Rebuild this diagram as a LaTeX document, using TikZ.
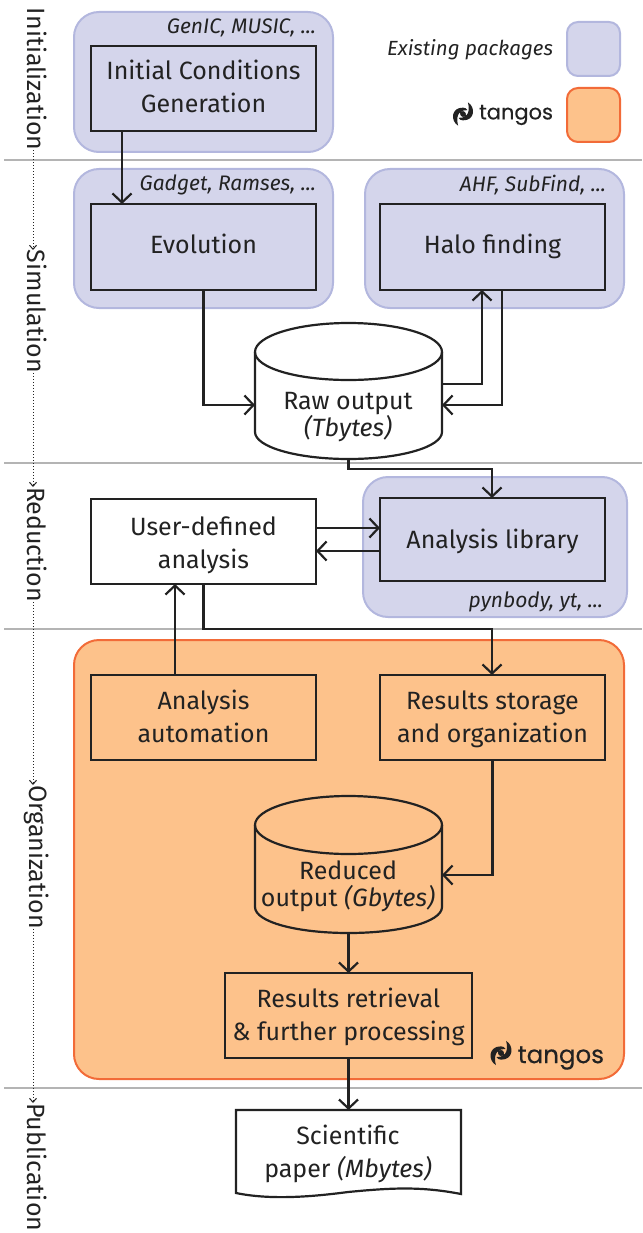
\documentclass[tikz,border=0pt]{standalone}
\usepackage{fontspec}
\setmainfont{Fira Sans}[ItalicFont={Fira Sans Italic}]
\newfontfamily\tgfont{Poppins}[FakeBold=0.4]
\usetikzlibrary{arrows.meta,positioning,calc}
\definecolor{pkgfill}{HTML}{D4D5EB}
\definecolor{pkgline}{HTML}{B3B7DE}
\definecolor{tgfill}{HTML}{FDC28B}
\definecolor{tgline}{HTML}{F26B38}
\definecolor{ink}{HTML}{222222}
\definecolor{sep}{HTML}{B4B4B4}
\tikzset{
  x=1pt,y=-1pt,
  every node/.style={text=ink,inner sep=0pt,outer sep=0pt},
  pkg/.style={draw=pkgline,fill=pkgfill,line width=2pt,rounded corners=25pt},
  tgbg/.style={draw=tgline,fill=tgfill,line width=2pt,rounded corners=25pt},
  pkgkey/.style={draw=pkgline,fill=pkgfill,line width=2pt,rounded corners=11pt},
  tgkey/.style={draw=tgline,fill=tgfill,line width=2pt,rounded corners=11pt},
  stepbox/.style={draw=ink,line width=2.2pt,font=\fontsize{25}{33}\selectfont,align=center},
  cyl/.style={draw=ink,line width=2.2pt,fill=white},
  conn/.style={draw=ink,line width=2.2pt,-{Straight Barb[length=9pt,width=19pt,line width=2.2pt]},rounded corners=0pt},
  plainline/.style={draw=ink,line width=2.2pt},
  sepline/.style={draw=sep,line width=1.4pt},
  phase/.style={rotate=-90,font=\fontsize{25}{28}\selectfont},
  phaseconn/.style={draw=ink,line width=1pt,dotted,-{Straight Barb[length=4pt,width=7pt,line width=1pt]}},
  pkglabel/.style={font=\itshape\fontsize{21}{24}\selectfont},
  textlabel/.style={font=\fontsize{25}{27}\selectfont,align=center},
  papertext/.style={font=\fontsize{25}{33}\selectfont,align=center},
}
\newcommand{\boxpad}{0pt}
\newcommand{\boxat}[6][stepbox]{%
  \node[#1,minimum width=#4pt,minimum height=#5pt,anchor=north west] (#2) at #3 {\vbox{\kern\boxpad\hbox{\begin{tabular}{@{}c@{}}#6\end{tabular}}}};}
\newcommand{\swirl}[2]{%
  \begin{scope}[shift={(#1)},scale=#2]
    \fill[ink] (4.5,-10.5) .. controls (11.5,-6.5) and (11,6) .. (0,5.8)
      .. controls (-2,5.8) and (-3,5) .. (-4,3.5)
      .. controls (1,4) and (7.5,1) .. (4.5,-10.5) -- cycle;
    \fill[ink] (-4.5,10.5) .. controls (-11.5,6.5) and (-11,-6) .. (0,-5.8)
      .. controls (2,-5.8) and (3,-5) .. (4,-3.5)
      .. controls (-1,-4) and (-7.5,-1) .. (-4.5,10.5) -- cycle;
    \fill[ink] (0,0) circle (2.6);
    \draw[ink,line width=2pt] (-3.5,-3) .. controls (-1,0) and (1,0) .. (3.5,3);
  \end{scope}}
\begin{document}
\begin{tikzpicture}
\useasboundingbox (0,0) rectangle (642,1233);
% separators
\coordinate (s1a) at (4,160);  \coordinate (s1b) at (642,160);
\coordinate (s2a) at (4,463);  \coordinate (s2b) at (642,463);
\coordinate (s3a) at (4,629);  \coordinate (s3b) at (642,629);
\coordinate (s4a) at (4,1088); \coordinate (s4b) at (642,1088);
\draw[sepline] (s1a)--(s1b);
\draw[sepline] (s2a)--(s2b);
\draw[sepline] (s3a)--(s3b);
\draw[sepline] (s4a)--(s4b);
% group panels
\node[pkg,minimum width=259pt,minimum height=140pt,anchor=north west] (pkgic) at (74,12) {};
\node[pkg,minimum width=259pt,minimum height=139pt,anchor=north west] (pkgev) at (74,169) {};
\node[pkg,minimum width=259pt,minimum height=139pt,anchor=north west] (pkghf) at (365,169) {};
\node[pkg,minimum width=264pt,minimum height=140pt,anchor=north west] (pkgan) at (363,477) {};
\node[tgbg,minimum width=550pt,minimum height=439pt,anchor=north west] (pkgtg) at (74,640) {};
\node[pkgkey,minimum width=53pt,minimum height=54pt,anchor=north west] (keya) at (567,22) {};
\node[tgkey,minimum width=53pt,minimum height=54pt,anchor=north west] (keyb) at (567,88) {};
% package labels
\node[pkglabel,anchor=east] (lic) at (316,28) {GenIC, MUSIC, ...};
\node[pkglabel,anchor=east] (lev) at (316,185) {Gadget, Ramses, ...};
\node[pkglabel,anchor=east] (lhf) at (606,185) {AHF, SubFind, ...};
\node[pkglabel,anchor=east] (lan) at (603,602) {pynbody, yt, ...};
\node[pkglabel,anchor=east,font=\itshape\fontsize{20.5}{24}\selectfont] (lex) at (553,50) {Existing packages};
% boxes
\renewcommand{\boxpad}{2pt}
\boxat[stepbox,fill=pkgfill]{ic}{(91,46)}{225}{85}{Initial Conditions\\Generation}
\renewcommand{\boxpad}{0pt}
\boxat[stepbox,fill=pkgfill]{evo}{(91,204)}{225}{86}{Evolution}
\boxat[stepbox,fill=pkgfill]{halo}{(380,204)}{225}{86}{Halo finding}
\renewcommand{\boxpad}{4pt}
\boxat[stepbox,fill=pkgfill]{lib}{(380,498)}{225}{83}{Analysis library}
\renewcommand{\boxpad}{8pt}
\boxat[stepbox,fill=white]{user}{(91,499)}{225}{85}{User-defined\\analysis}
\renewcommand{\boxpad}{4pt}
\boxat[stepbox,fill=tgfill]{auto}{(91,675)}{225}{85}{Analysis\\automation}
\boxat[stepbox,fill=tgfill]{store}{(380,675)}{225}{85}{Results storage\\and organization}
\boxat[stepbox,fill=tgfill]{retr}{(225,973)}{247}{85}{Results retrieval\\\& further processing}
% cylinders
\draw[cyl] (255,352) -- (255,432) .. controls (255,447) and (297,459) .. (348.5,459) .. controls (400,459) and (442,447) .. (442,432) -- (442,352)
  .. controls (442,336) and (400,323) .. (348.5,323) .. controls (297,323) and (255,336) .. (255,352) -- cycle;
\draw[cyl,fill=none] (255,352) .. controls (255,368) and (297,380) .. (348.5,380) .. controls (400,380) and (442,368) .. (442,352);
\node[minimum width=187pt,minimum height=136pt,anchor=north west] (raw) at (255,323) {};
\node[textlabel,anchor=center] (rawt) at (348,417) {Raw output\\\itshape (Tbytes)};
\draw[cyl,fill=tgfill] (255,825) -- (255,907) .. controls (255,922) and (297,933) .. (348.5,933) .. controls (400,933) and (442,922) .. (442,907) -- (442,825)
  .. controls (442,809) and (400,796) .. (348.5,796) .. controls (297,796) and (255,809) .. (255,825) -- cycle;
\draw[cyl,fill=none] (255,825) .. controls (255,841) and (297,854) .. (348.5,854) .. controls (400,854) and (442,841) .. (442,825);
\node[minimum width=187pt,minimum height=137pt,anchor=north west] (red) at (255,796) {};
\node[textlabel,anchor=center] (redt) at (348,886) {Reduced\\output \textit{(Gbytes)}};
% paper
\draw[cyl] (236,1110) -- (461,1110) -- (461,1194) .. controls (420,1186) and (390,1188) .. (348,1192)
  .. controls (310,1197) and (270,1200) .. (236,1193) -- cycle;
\node[minimum width=225pt,minimum height=85pt,anchor=north west] (paper) at (236,1110) {};
\node[papertext,anchor=center] (papert) at (348,1154) {Scientific\\paper \textit{(Mbytes)}};
% connectors
\draw[conn] (ic.south -| 122,0) -- (evo.north -| 122,0);
\draw[conn] (evo.south) |- (raw.west |- 0,405);
\draw[plainline] (raw.east |- 0,384) -| (482,300);
\draw[conn] (482,384) -- (halo.south -| 482,0);
\draw[conn] (halo.south -| 502,0) |- (raw.east |- 0,405);
\draw[conn] (raw.south) |- (492,469) -- (lib.north -| 492,0);
\draw[conn] (user.east |- 0,528) -- (lib.west |- 0,528);
\draw[conn] (lib.west |- 0,551) -- (user.east |- 0,551);
\draw[conn] (user.south) |- (492,629) -- (store.north -| 492,0);
\draw[conn] (auto.north -| 175,0) -- (user.south -| 175,0);
\draw[conn] (store.south) |- (red.east |- 0,875);
\draw[conn] (red.south) -- (retr.north);
\draw[conn] (retr.south) -- (paper.north);
% phases
\node[phase,anchor=west] (p1) at (37,8) {Initialization};
\node[phase,anchor=west] (p2) at (37,250) {Simulation};
\node[phase,anchor=west] (p3) at (37,487) {Reduction};
\node[phase,anchor=west] (p4) at (37,785) {Organization};
\node[phase,anchor=west] (p5) at (37,1103) {Publication};
\draw[phaseconn] (p1.east -| 33,0) -- (p2.west -| 33,0);
\draw[phaseconn] (p2.east -| 33,0) -- (p3.west -| 33,0);
\draw[phaseconn] (p3.east -| 33,0) -- (p4.west -| 33,0);
\draw[phaseconn] (p4.east -| 33,0) -- (p5.west -| 33,0);
% tangos marks
\node[anchor=east,font=\tgfont\fontsize{21}{24}\selectfont] (tk) at (553,115) {tangos};
\swirl{463,114}{1.1}
\node[anchor=east,font=\tgfont\fontsize{24.5}{28}\selectfont] (tb) at (604,1058) {tangos};
\swirl{501,1053}{1.15}
\end{tikzpicture}
\end{document}
